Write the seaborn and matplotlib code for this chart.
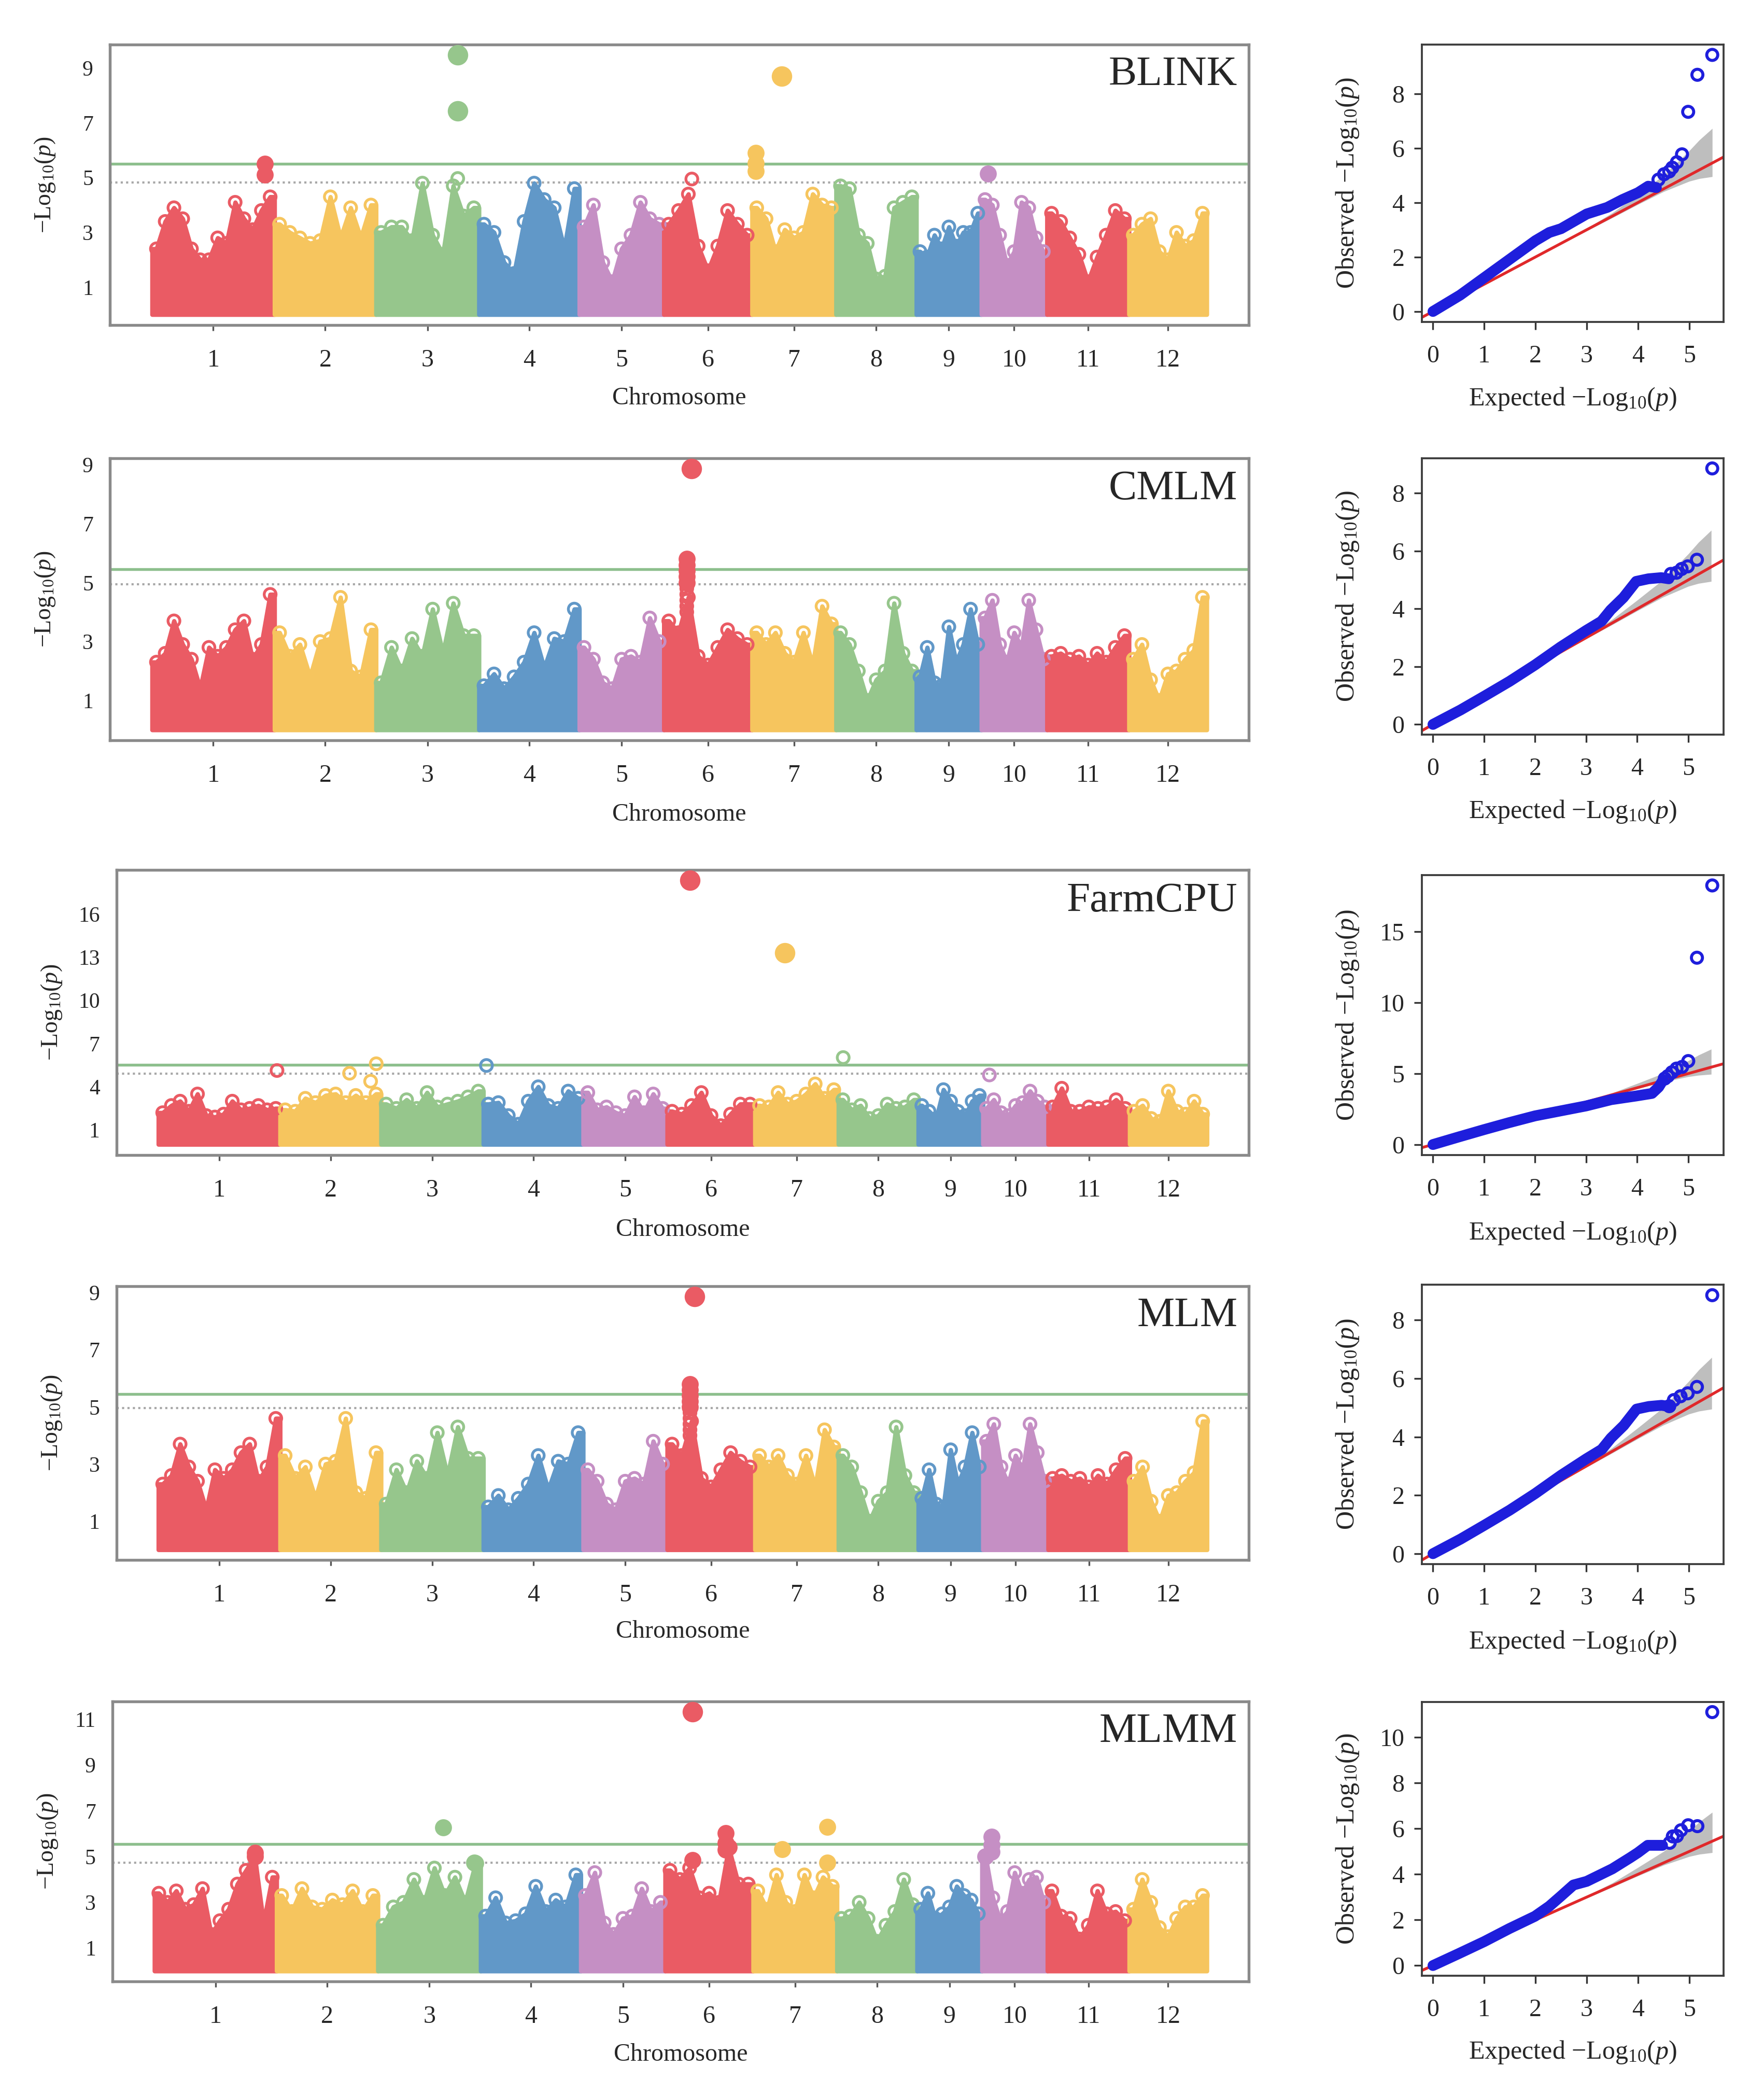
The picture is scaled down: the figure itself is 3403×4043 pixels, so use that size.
import numpy as np
import pandas as pd
import matplotlib
matplotlib.use("Agg")
import matplotlib.pyplot as plt
import seaborn as sns

# ---- data ------------------------------------------------------------------
# rice chromosome lengths (Mb), used for the cumulative x position
CHR_LEN = [43.3, 35.9, 36.4, 35.5, 29.9, 31.2, 29.7, 28.4, 23.0, 23.2, 29.0, 27.5]
CHR_LABELS = [str(i) for i in range(1, 13)]

METHODS = ["BLINK", "CMLM", "FarmCPU", "MLM", "MLMM"]

# upper envelope of the SNP cloud, evenly spaced along each chromosome
BLINK_ENV = [
    [2.4, 3.4, 3.9, 3.5, 2.4, 2.0, 2.0, 2.8, 2.6, 4.1, 3.5, 3.1, 3.8, 4.3],
    [3.3, 3.0, 2.8, 2.6, 2.7, 4.3, 2.8, 3.9, 2.8, 4.0],
    [3.0, 3.2, 3.2, 2.7, 4.8, 2.9, 2.2, 4.7, 3.6, 3.9],
    [3.3, 3.0, 1.9, 1.5, 3.4, 4.8, 4.2, 3.9, 2.4, 4.6],
    [3.2, 4.0, 1.9, 1.2, 2.4, 2.9, 4.1, 3.5, 3.3],
    [3.3, 3.8, 4.4, 2.5, 1.6, 2.5, 3.8, 3.3, 2.9],
    [3.9, 3.5, 2.3, 3.1, 2.8, 3.0, 4.4, 4.0, 3.9],
    [4.7, 4.6, 2.9, 2.6, 1.3, 1.4, 3.9, 4.1, 4.3],
    [2.3, 2.1, 2.9, 2.4, 3.2, 2.5, 3.0, 3.0, 3.7],
    [4.2, 4.0, 2.9, 1.8, 2.3, 4.1, 3.9, 2.8, 2.3],
    [3.7, 3.4, 2.8, 2.2, 1.2, 2.1, 2.9, 3.8, 3.5],
    [2.9, 3.3, 3.5, 2.3, 2.0, 3.0, 2.5, 2.7, 3.7],
]
CMLM_ENV = [
    [2.3, 2.6, 3.7, 2.9, 2.4, 1.4, 2.8, 2.5, 2.8, 3.4, 3.7, 2.4, 2.9, 4.6],
    [3.3, 2.5, 2.9, 1.8, 3.0, 3.1, 4.5, 2.0, 1.8, 3.4],
    [1.6, 2.8, 2.0, 3.1, 2.5, 4.1, 2.6, 4.3, 3.2, 3.2],
    [1.5, 1.9, 1.4, 1.8, 2.3, 3.3, 2.1, 3.1, 3.0, 4.1],
    [2.8, 2.4, 1.6, 1.4, 2.4, 2.5, 2.3, 3.8, 3.0],
    [3.7, 3.3, 4.5, 2.5, 2.2, 2.8, 3.4, 3.1, 2.9],
    [3.3, 2.9, 3.3, 2.6, 2.3, 3.3, 2.2, 4.2, 3.6],
    [3.3, 2.9, 2.0, 1.0, 1.7, 2.0, 4.3, 2.6, 2.0],
    [1.8, 2.8, 1.6, 1.5, 3.5, 2.3, 2.9, 4.1, 2.9],
    [3.8, 4.4, 2.9, 2.3, 3.3, 2.8, 4.4, 3.4, 2.4],
    [2.5, 2.6, 2.4, 2.5, 2.2, 2.6, 2.3, 2.8, 3.2],
    [2.4, 2.9, 1.7, 1.0, 1.9, 2.0, 2.4, 2.7, 4.5],
]
FARMCPU_ENV = [
    [2.2, 2.7, 3.0, 2.3, 3.5, 2.0, 1.9, 2.1, 3.0, 2.4, 2.5, 2.7, 2.4, 2.5],
    [2.4, 2.3, 3.2, 2.9, 3.4, 3.5, 2.9, 3.4, 2.9, 3.5],
    [2.8, 2.5, 3.1, 2.5, 3.6, 2.6, 2.8, 3.0, 3.3, 3.7],
    [2.8, 2.9, 2.0, 1.4, 3.0, 4.0, 2.7, 2.5, 3.7, 3.2],
    [3.6, 2.4, 2.6, 2.2, 2.0, 3.3, 2.2, 3.5, 2.5],
    [2.3, 2.1, 2.7, 3.6, 2.0, 1.3, 2.1, 2.8, 2.8],
    [2.7, 2.6, 3.6, 2.8, 3.0, 3.5, 4.2, 3.2, 3.8],
    [3.1, 2.4, 2.7, 1.8, 2.0, 2.8, 2.5, 2.6, 3.1],
    [2.7, 2.3, 1.8, 3.8, 3.0, 2.3, 2.0, 3.0, 3.4],
    [2.5, 3.1, 2.2, 2.0, 2.7, 2.9, 3.7, 3.0, 2.6],
    [2.6, 3.9, 2.3, 2.3, 2.6, 2.5, 2.6, 3.1, 2.5],
    [2.3, 2.7, 1.8, 1.6, 3.7, 2.3, 2.1, 3.0, 2.1],
]
MLM_ENV = [
    [2.3, 2.6, 3.7, 2.9, 2.4, 1.4, 2.8, 2.5, 2.8, 3.4, 3.7, 2.4, 2.9, 4.6],
    [3.3, 2.5, 2.9, 1.8, 3.0, 3.1, 4.6, 2.0, 1.8, 3.4],
    [1.6, 2.8, 2.0, 3.1, 2.5, 4.1, 2.6, 4.3, 3.2, 3.2],
    [1.5, 1.9, 1.4, 1.8, 2.3, 3.3, 2.1, 3.1, 3.0, 4.1],
    [2.8, 2.4, 1.6, 1.4, 2.4, 2.5, 2.3, 3.8, 3.0],
    [3.7, 3.3, 4.5, 2.5, 2.2, 2.8, 3.4, 3.1, 2.9],
    [3.3, 2.9, 3.3, 2.6, 2.3, 3.3, 2.2, 4.2, 3.6],
    [3.3, 2.9, 2.0, 1.0, 1.7, 2.0, 4.3, 2.6, 2.0],
    [1.8, 2.8, 1.6, 1.5, 3.5, 2.3, 2.9, 4.1, 2.9],
    [3.8, 4.4, 2.9, 2.3, 3.3, 2.8, 4.4, 3.4, 2.4],
    [2.5, 2.6, 2.4, 2.5, 2.2, 2.6, 2.3, 2.8, 3.2],
    [2.4, 2.9, 1.7, 1.0, 1.9, 2.0, 2.4, 2.7, 4.5],
]
MLMM_ENV = [
    [3.4, 3.0, 3.5, 2.7, 2.9, 3.6, 1.6, 2.2, 2.7, 3.8, 4.4, 5.0, 2.1, 4.1],
    [3.3, 2.6, 3.6, 2.8, 2.7, 3.1, 2.9, 3.5, 2.6, 3.3],
    [2.0, 2.8, 3.0, 4.0, 3.0, 4.5, 3.3, 4.1, 3.0, 4.7],
    [2.4, 3.2, 2.1, 2.2, 2.5, 3.7, 2.6, 3.1, 2.8, 4.2],
    [3.3, 4.3, 2.1, 1.6, 2.3, 2.4, 3.6, 2.6, 3.0],
    [4.4, 4.0, 4.5, 3.2, 3.4, 3.0, 5.4, 3.8, 3.8],
    [3.5, 2.7, 4.2, 3.0, 2.6, 4.2, 3.2, 4.1, 3.7],
    [2.3, 2.4, 3.0, 2.3, 1.3, 2.0, 2.6, 4.0, 2.9],
    [2.7, 3.4, 2.3, 2.5, 2.8, 3.7, 3.3, 3.1, 2.5],
    [5.0, 3.2, 2.2, 2.6, 4.3, 3.4, 4.0, 4.1, 3.0],
    [3.5, 2.4, 2.3, 1.4, 2.0, 3.5, 2.5, 2.6, 2.2],
    [2.7, 4.0, 3.0, 1.9, 1.5, 2.3, 2.8, 2.8, 3.3],
]

# single SNPs standing out of the cloud: chromosome, position (Mb), -log10(p)
BLINK_PEAK_CHR = [1, 1, 3, 3, 3, 6, 7, 7, 7, 7, 10]
BLINK_PEAK_POS = [39.9, 39.9, 28.9, 28.9, 28.9, 9.9, 1.4, 1.4, 1.4, 10.5, 2.3]
BLINK_PEAK_VAL = [5.1, 5.5, 9.48, 7.43, 4.97, 4.95, 5.9, 5.52, 5.24, 8.71, 5.14]

CMLM_PEAK_CHR = [6, 6, 6, 6, 6, 6, 6, 6, 6, 6, 6]
CMLM_PEAK_POS = [8.1, 8.1, 8.1, 8.1, 8.1, 8.1, 8.1, 8.1, 8.1, 8.1, 9.8]
CMLM_PEAK_VAL = [5.8, 5.6, 5.4, 5.2, 5.0, 4.8, 4.6, 4.4, 4.2, 4.0, 8.87]

FARMCPU_PEAK_CHR = [1, 2, 2, 2, 4, 6, 7, 8, 10]
FARMCPU_PEAK_POS = [42.2, 24.7, 32.2, 34.2, 1.1, 8.1, 10.6, 1.7, 2.3]
FARMCPU_PEAK_VAL = [5.13, 4.94, 4.38, 5.6, 5.48, 18.34, 13.31, 6.03, 4.82]

MLM_PEAK_CHR = [6, 6, 6, 6, 6, 6, 6, 6, 6, 6, 6]
MLM_PEAK_POS = [8.1, 8.1, 8.1, 8.1, 8.1, 8.1, 8.1, 8.1, 8.1, 8.1, 9.8]
MLM_PEAK_VAL = [5.8, 5.6, 5.4, 5.2, 5.0, 4.8, 4.6, 4.4, 4.2, 4.0, 8.87]

MLMM_PEAK_CHR = [1, 3, 3, 6, 6, 6, 6, 6, 7, 7, 7, 10, 10, 10]
MLMM_PEAK_POS = [35.7, 23.1, 34.1, 9.8, 9.8, 21.4, 21.4, 21.4, 10.3, 26.3, 26.3, 3.5, 3.5, 3.5]
MLMM_PEAK_VAL = [5.16, 6.26, 4.73, 11.32, 4.84, 6.03, 5.6, 5.3, 5.32, 6.3, 4.73, 5.86, 5.5, 5.2]

# threshold lines
GREEN_LINE = [5.5, 5.45, 5.54, 5.45, 5.55]
DOT_LINE = [4.82, 4.95, 4.9, 4.97, 4.72]

MAN_YTICKS = [[1, 3, 5, 7, 9], [1, 3, 5, 7, 9], [1, 4, 7, 10, 13, 16],
              [1, 3, 5, 7, 9], [1, 3, 5, 7, 9, 11]]

# QQ plots: dense part of the curve, then the separate tail points
QQ_BLINK_EXP = [0.0, 0.53, 1.0, 1.5, 2.0, 2.27, 2.5, 3.0, 3.4, 3.7, 4.0, 4.2, 4.36]
QQ_BLINK_OBS = [0.0, 0.6, 1.24, 1.92, 2.6, 2.9, 3.04, 3.58, 3.82, 4.11, 4.36, 4.6, 4.55]
QQ_BLINK_TAIL_EXP = [4.40, 4.51, 4.61, 4.67, 4.76, 4.86, 4.98, 5.16, 5.45]
QQ_BLINK_TAIL_OBS = [4.84, 5.04, 5.14, 5.28, 5.48, 5.77, 7.33, 8.69, 9.42]

QQ_CMLM_EXP = [0.0, 0.54, 1.01, 1.5, 2.0, 2.5, 3.0, 3.3, 3.48, 3.73, 3.98, 4.22, 4.47, 4.62]
QQ_CMLM_OBS = [0.0, 0.5, 0.98, 1.49, 2.06, 2.68, 3.25, 3.57, 3.96, 4.39, 4.95, 5.04, 5.08, 5.04]
QQ_CMLM_TAIL_EXP = [4.66, 4.77, 4.87, 4.99, 5.17, 5.47]
QQ_CMLM_TAIL_OBS = [5.21, 5.25, 5.38, 5.47, 5.7, 8.86]

QQ_FARMCPU_EXP = [0.0, 0.5, 1.0, 1.49, 2.0, 2.5, 3.0, 3.49, 3.98, 4.29, 4.42, 4.51]
QQ_FARMCPU_OBS = [0.0, 0.53, 1.05, 1.54, 2.02, 2.37, 2.72, 3.16, 3.42, 3.6, 4.04, 4.56]
QQ_FARMCPU_TAIL_EXP = [4.54, 4.6, 4.68, 4.77, 4.88, 5.0, 5.17, 5.47]
QQ_FARMCPU_TAIL_OBS = [4.65, 4.82, 5.09, 5.35, 5.47, 5.88, 13.16, 18.25]

QQ_MLM_EXP = [0.0, 0.54, 1.01, 1.5, 2.0, 2.5, 3.0, 3.3, 3.48, 3.73, 3.98, 4.22, 4.47, 4.62]
QQ_MLM_OBS = [0.0, 0.5, 0.98, 1.49, 2.06, 2.68, 3.25, 3.57, 3.96, 4.39, 4.95, 5.04, 5.08, 5.04]
QQ_MLM_TAIL_EXP = [4.62, 4.71, 4.84, 4.98, 5.16, 5.46]
QQ_MLM_TAIL_OBS = [5.05, 5.26, 5.39, 5.49, 5.71, 8.85]

QQ_MLMM_EXP = [0.0, 0.5, 1.0, 1.49, 1.99, 2.27, 2.49, 2.74, 3.0, 3.5, 3.85, 4.0, 4.19, 4.48]
QQ_MLMM_OBS = [0.0, 0.52, 1.05, 1.62, 2.16, 2.6, 3.03, 3.53, 3.69, 4.24, 4.73, 4.95, 5.27, 5.27]
QQ_MLMM_TAIL_EXP = [4.62, 4.68, 4.76, 4.84, 4.98, 5.16, 5.45]
QQ_MLMM_TAIL_OBS = [5.38, 5.66, 5.68, 5.93, 6.15, 6.11, 11.11]

# 95% band of the QQ plots (same SNP set in every model)
QQ_BAND_X = [2.5, 3.0, 3.5, 4.0, 4.5, 5.0, 5.2, 5.45]
QQ_BAND_LO = [2.49, 2.96, 3.44, 3.93, 4.4, 4.78, 4.88, 4.95]
QQ_BAND_HI = [2.51, 3.05, 3.62, 4.3, 5.0, 5.9, 6.3, 6.72]

QQ_XTICKS = [0, 1, 2, 3, 4, 5]
QQ_YTICKS = [[0, 2, 4, 6, 8], [0, 2, 4, 6, 8], [0, 5, 10, 15],
             [0, 2, 4, 6, 8], [0, 2, 4, 6, 8, 10]]

# ---- style ------------------------------------------------------------------
CHR_COLORS = ["#EA5B64", "#F6C55E", "#96C68C", "#6198C8", "#C58FC4"]
QQ_BLUE = "#1E1EDC"
FILL_CUT = [5.0, 4.9, 10.0, 4.9, 4.7]   # above this the dots are drawn filled

MAN_BOX = [[0.0623, 0.845, 0.6457, 0.1337],
           [0.0623, 0.6468, 0.6457, 0.1346],
           [0.0660, 0.449, 0.6420, 0.136],
           [0.0660, 0.2558, 0.6420, 0.1305],
           [0.0637, 0.0547, 0.6443, 0.1335]]
QQ_BOX = [[0.806, 0.8465, 0.171, 0.1322],
          [0.806, 0.6495, 0.171, 0.1319],
          [0.806, 0.449, 0.171, 0.1335],
          [0.806, 0.2538, 0.171, 0.1332],
          [0.806, 0.0574, 0.171, 0.1306]]

sns.set_theme(style="white")
plt.rcParams['font.family'] = ['Liberation Serif', 'DejaVu Serif']
plt.rcParams['mathtext.fontset'] = 'custom'
plt.rcParams['mathtext.rm'] = 'Liberation Serif'
plt.rcParams['mathtext.it'] = 'Liberation Serif:italic'

LOGP = "\u2212Log$_{10}$($\\mathit{p}$)"


def chr_color(c):
    return CHR_COLORS[(c - 1) % len(CHR_COLORS)]


def r_limits(lo, hi):
    """R style 4% padding"""
    pad = 0.04 * (hi - lo)
    return lo - pad, hi + pad


def draw_manhattan(ax, env, peak_chr, peak_pos, peak_val, k):
    offsets = np.concatenate([[0], np.cumsum(CHR_LEN)[:-1]])
    rows = []
    for c, (off, length, vals) in enumerate(zip(offsets, CHR_LEN, env), start=1):
        n = len(vals)
        xs = [off + (i + 0.5) * length / n for i in range(n)]
        px = [off] + xs + [off + length]
        py = [vals[0]] + list(vals) + [vals[-1]]
        col = chr_color(c)
        ax.fill_between(px, py, 0, color=col, edgecolor=col, lw=2.0, zorder=2)
        for x, v in zip(xs, vals):
            rows.append((x, v, c))
    for c, p, v in zip(peak_chr, peak_pos, peak_val):
        rows.append((offsets[c - 1] + p, v, c))
    df = pd.DataFrame(rows, columns=["x", "logp", "chr"])

    open_pts = df[df["logp"] < FILL_CUT[k]]
    filled_pts = df[df["logp"] >= FILL_CUT[k]]
    for c, grp in open_pts.groupby("chr"):
        sns.scatterplot(data=grp, x="x", y="logp", ax=ax, marker="o", s=30,
                        facecolors="none", edgecolor=chr_color(c),
                        linewidth=1.3, zorder=3, legend=False)
    for c, grp in filled_pts.groupby("chr"):
        big = grp[grp["logp"] >= 7]
        small = grp[grp["logp"] < 7]
        for part, size in ((small, 50), (big, 75)):
            if len(part):
                sns.scatterplot(data=part, x="x", y="logp", ax=ax, marker="o",
                                s=size, color=chr_color(c), edgecolor=chr_color(c),
                                linewidth=0.8, zorder=4, legend=False)

    ax.axhline(GREEN_LINE[k], color="#8DBF8D", lw=1.3, zorder=1)
    ax.axhline(DOT_LINE[k], color="#A8A8A8", lw=1.0, ls=(0, (1, 1.5)), zorder=1)

    ymax = max(df["logp"].max(), 0)
    ax.set_ylim(*r_limits(0, ymax))
    ax.set_xlim(*r_limits(0, sum(CHR_LEN)))
    centers = offsets + np.array(CHR_LEN) / 2
    ax.set_xticks(centers)
    ax.set_xticklabels(CHR_LABELS)
    ax.set_yticks(MAN_YTICKS[k])
    ax.tick_params(axis="x", length=2.6, width=0.8, color="#555555", pad=8.5,
                   labelsize=11.5, bottom=True)
    ax.tick_params(axis="y", length=0, pad=7.7, labelsize=10, left=True)
    ax.set_xlabel("Chromosome", fontsize=11.5)
    ax.set_ylabel(LOGP, fontsize=11)
    ax.xaxis.set_label_coords(0.5, -0.262)
    ax.xaxis.label.set_va("center")
    ax.yaxis.set_label_coords(-0.0573, 0.5)
    ax.yaxis.label.set_va("center")
    for sp in ax.spines.values():
        sp.set_visible(True)
        sp.set_color("#8A8A8A")
        sp.set_linewidth(1.3)
    ax.text(0.99, 0.855, METHODS[k], transform=ax.transAxes, ha="right",
            va="baseline", fontsize=19.5, zorder=5)


def draw_qq(ax, exp, obs, tail_exp, tail_obs, k):
    ax.fill_between(QQ_BAND_X, QQ_BAND_LO, QQ_BAND_HI, color="#BEBEBE", lw=0, zorder=1)
    ax.axline((0, 0), slope=1, color="#E0282A", lw=1.3, zorder=2)
    curve = pd.DataFrame({"expected": exp, "observed": obs})
    sns.lineplot(data=curve, x="expected", y="observed", ax=ax, sort=False,
                 estimator=None, color=QQ_BLUE, lw=5.0, zorder=3,
                 solid_capstyle="round")
    tail = pd.DataFrame({"expected": tail_exp, "observed": tail_obs})
    sns.scatterplot(data=tail, x="expected", y="observed", ax=ax, marker="o", s=26,
                    facecolors="none", edgecolor=QQ_BLUE, linewidth=1.4, zorder=4,
                    legend=False)
    ax.set_xlim(*r_limits(0, max(tail_exp)))
    ax.set_ylim(*r_limits(0, max(tail_obs)))
    ax.set_xticks(QQ_XTICKS)
    ax.set_yticks(QQ_YTICKS[k])
    ax.tick_params(axis="x", length=3.6, width=0.8, color="#333333", pad=7,
                   labelsize=11.5, bottom=True)
    ax.tick_params(axis="y", length=3.6, width=0.8, color="#333333", pad=4.4,
                   labelsize=11.5, left=True)
    ax.set_xlabel("Expected " + LOGP, fontsize=12)
    ax.set_ylabel("Observed " + LOGP, fontsize=12)
    ax.xaxis.set_label_coords(0.5, -0.279)
    ax.xaxis.label.set_va("center")
    ax.yaxis.set_label_coords(-0.247, 0.5)
    ax.yaxis.label.set_va("center")
    for sp in ax.spines.values():
        sp.set_visible(True)
        sp.set_color("#3C3C3C")
        sp.set_linewidth(0.9)


fig = plt.figure(figsize=(3403 / 300, 4043 / 300), dpi=300)

man_env = [BLINK_ENV, CMLM_ENV, FARMCPU_ENV, MLM_ENV, MLMM_ENV]
man_chr = [BLINK_PEAK_CHR, CMLM_PEAK_CHR, FARMCPU_PEAK_CHR, MLM_PEAK_CHR, MLMM_PEAK_CHR]
man_pos = [BLINK_PEAK_POS, CMLM_PEAK_POS, FARMCPU_PEAK_POS, MLM_PEAK_POS, MLMM_PEAK_POS]
man_val = [BLINK_PEAK_VAL, CMLM_PEAK_VAL, FARMCPU_PEAK_VAL, MLM_PEAK_VAL, MLMM_PEAK_VAL]
qq_exp = [QQ_BLINK_EXP, QQ_CMLM_EXP, QQ_FARMCPU_EXP, QQ_MLM_EXP, QQ_MLMM_EXP]
qq_obs = [QQ_BLINK_OBS, QQ_CMLM_OBS, QQ_FARMCPU_OBS, QQ_MLM_OBS, QQ_MLMM_OBS]
qq_texp = [QQ_BLINK_TAIL_EXP, QQ_CMLM_TAIL_EXP, QQ_FARMCPU_TAIL_EXP,
           QQ_MLM_TAIL_EXP, QQ_MLMM_TAIL_EXP]
qq_tobs = [QQ_BLINK_TAIL_OBS, QQ_CMLM_TAIL_OBS, QQ_FARMCPU_TAIL_OBS,
           QQ_MLM_TAIL_OBS, QQ_MLMM_TAIL_OBS]

for k in range(len(METHODS)):
    ax_m = fig.add_axes(MAN_BOX[k])
    draw_manhattan(ax_m, man_env[k], man_chr[k], man_pos[k], man_val[k], k)
    ax_q = fig.add_axes(QQ_BOX[k])
    draw_qq(ax_q, qq_exp[k], qq_obs[k], qq_texp[k], qq_tobs[k], k)

fig.savefig("out.png", dpi=300, facecolor="white")
